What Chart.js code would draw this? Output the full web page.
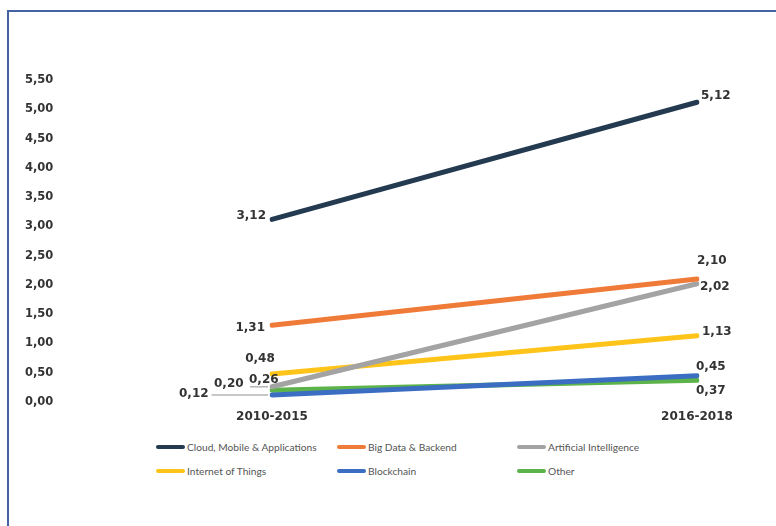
<!DOCTYPE html>
<html lang="en">
<head>
  <meta charset="UTF-8">
  <title>Tech Spend by Category</title>
  <script src="https://cdn.jsdelivr.net/npm/chart.js"></script>
  <style>
    body {
      margin: 0;
      background: #fff;
      width: 776px;
      height: 526px;
      overflow: hidden;
      position: relative;
    }
    .frame {
      position: absolute;
      left: 7px;
      top: 10px;
      width: 780px;
      height: 530px;
      border-top: 2px solid #4563a3;
      border-left: 2px solid #4563a3;
      box-sizing: border-box;
    }
    #chart {
      position: absolute;
      left: 0;
      top: 0;
    }
    .legend {
      position: absolute;
      left: 156px;
      top: 439px;
      display: grid;
      grid-template-columns: 181px 180px 200px;
      row-gap: 8px;
      font-family: Lato, sans-serif;
      font-size: 10.2px;
      color: #555;
    }
    .legend .item {
      display: flex;
      align-items: center;
      height: 16px;
      white-space: nowrap;
    }
    .legend .swatch {
      width: 29px;
      height: 4px;
      border-radius: 2px;
      margin-right: 2px;
      flex: none;
    }
  </style>
</head>
<body>
  <div class="frame"></div>
  <canvas id="chart" width="776" height="430"></canvas>
  <div class="legend" id="legend"></div>

  <script>
    // periods on the x axis
    const periods = ['2010-2015', '2016-2018'];

    // one small array per series
    const cloudMobileApps = [3.12, 5.12];
    const bigDataBackend = [1.31, 2.10];
    const artificialIntelligence = [0.26, 2.02];
    const internetOfThings = [0.48, 1.13];
    const blockchain = [0.12, 0.45];
    const other = [0.20, 0.37];

    const seriesNames = ['Cloud, Mobile & Applications', 'Big Data & Backend', 'Artificial Intelligence',
                         'Internet of Things', 'Blockchain', 'Other'];
    const seriesValues = [cloudMobileApps, bigDataBackend, artificialIntelligence, internetOfThings, blockchain, other];
    const seriesColors = ['#243a50', '#f07a38', '#a3a3a3', '#fec41a', '#3b6ec2', '#5cb34a'];

    // y axis ticks
    const yMin = 0, yMax = 5.5, yStep = 0.5;

    // where each value label sits relative to its point (dx, dy, text align, optional leader)
    const labelPlacement = [
      [{ dx: -6, dy: -3, align: 'right' }, { dx: 4, dy: -6, align: 'left' }],
      [{ dx: -7, dy: 3, align: 'right' }, { dx: 0, dy: -18, align: 'left' }],
      [{ dx: -23, dy: -7, align: 'left', leader: 'start' }, { dx: 3, dy: 3, align: 'left' }],
      [{ dx: -12, dy: -15, align: 'center' }, { dx: 5, dy: -4, align: 'left' }],
      [{ dx: -93, dy: -1, align: 'left', leader: 'end' }, { dx: -1, dy: -9, align: 'left' }],
      [{ dx: -58, dy: -6, align: 'left' }, { dx: -1, dy: 11, align: 'left' }]
    ];

    const fmt = v => v.toFixed(2).replace('.', ',');

    const valueLabels = {
      id: 'valueLabels',
      afterDatasetsDraw(chart) {
        const ctx = chart.ctx;
        ctx.save();
        ctx.font = 'bold 12px "DejaVu Sans", Verdana, sans-serif';
        ctx.fillStyle = '#333';
        ctx.textBaseline = 'middle';
        chart.data.datasets.forEach((ds, i) => {
          const meta = chart.getDatasetMeta(i);
          meta.data.forEach((pt, j) => {
            const p = labelPlacement[i][j];
            const x = pt.x + p.dx, y = pt.y + p.dy;
            const text = fmt(ds.data[j]);
            ctx.textAlign = p.align;
            if (p.leader) {
              const w = ctx.measureText(text).width;
              ctx.strokeStyle = '#b5b5b5';
              ctx.lineWidth = 1.5;
              ctx.beginPath();
              if (p.leader === 'end') {
                ctx.moveTo(x + w + 3, y + 1);
              } else {
                ctx.moveTo(x + 1, y + 7);
              }
              ctx.lineTo(pt.x - 4, pt.y);
              ctx.stroke();
            }
            ctx.fillText(text, x, y);
          });
        });
        ctx.restore();
      }
    };

    const chart = new Chart(document.getElementById('chart'), {
      type: 'line',
      data: {
        labels: periods,
        datasets: seriesNames.map((name, i) => ({
          label: name,
          data: seriesValues[i],
          borderColor: seriesColors[i],
          backgroundColor: seriesColors[i],
          borderWidth: 5,
          borderCapStyle: 'round',
          pointRadius: 0,
          tension: 0
        }))
      },
      options: {
        responsive: false,
        animation: false,
        layout: { padding: { left: 25, right: 79, top: 80, bottom: 0 } },
        plugins: {
          legend: { display: false },
          tooltip: { enabled: false }
        },
        scales: {
          x: {
            offset: false,
            grid: { display: false },
            border: { display: false },
            ticks: {
              padding: 0,
              color: '#333',
              font: { family: '"DejaVu Sans", Verdana, sans-serif', size: 12, weight: 'bold' }
            },
            afterFit(scale) { scale.height = 28; }
          },
          y: {
            min: yMin,
            max: yMax,
            grid: { display: false },
            border: { display: false },
            ticks: {
              stepSize: yStep,
              crossAlign: 'far',
              color: '#333',
              font: { family: '"DejaVu Sans", Verdana, sans-serif', size: 11.5, weight: 'bold' },
              callback: v => fmt(v)
            },
            afterFit(scale) { scale.width = 247; }
          }
        }
      },
      plugins: [valueLabels]
    });

    // legend in three columns, built from the chart's datasets
    const legend = document.getElementById('legend');
    chart.data.datasets.forEach(ds => {
      const item = document.createElement('div');
      item.className = 'item';
      item.innerHTML = '<span class="swatch" style="background:' + ds.borderColor + '"></span>' + ds.label;
      legend.appendChild(item);
    });
  </script>
</body>
</html>
